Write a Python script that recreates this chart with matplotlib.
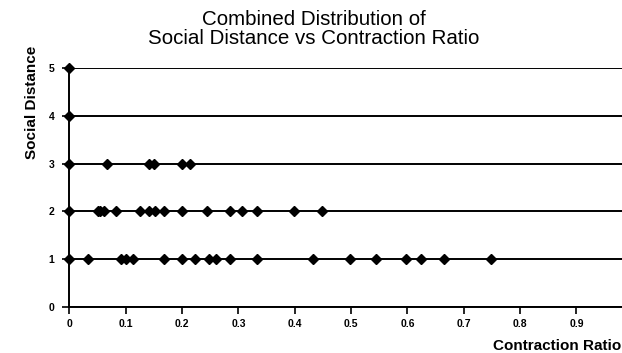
import matplotlib
matplotlib.use("Agg")
import matplotlib.pyplot as plt

plt.rcParams["font.family"] = ["Liberation Sans", "DejaVu Sans"]

# Contraction ratio values at each social distance level
level_1 = [0, 0.033, 0.091, 0.100, 0.112, 0.167, 0.199, 0.223, 0.248, 0.261,
           0.285, 0.333, 0.433, 0.498, 0.544, 0.598, 0.624, 0.665, 0.748]
level_2 = [0, 0.050, 0.054, 0.061, 0.083, 0.125, 0.141, 0.152, 0.167, 0.199,
           0.244, 0.285, 0.307, 0.333, 0.398, 0.448]
level_3 = [0, 0.067, 0.141, 0.150, 0.200, 0.214]
level_4 = [0]
level_5 = [0]
levels = [1, 2, 3, 4, 5]
x_ticks = [0, 0.1, 0.2, 0.3, 0.4, 0.5, 0.6, 0.7, 0.8, 0.9]
x_tick_labels = ["0", "0.1", "0.2", "0.3", "0.4", "0.5", "0.6", "0.7", "0.8", "0.9"]
y_ticks = [0, 1, 2, 3, 4, 5]

fig = plt.figure(figsize=(6.22, 3.53), dpi=100)
ax = fig.add_axes([0.1117, 0.1312, 0.8883, 0.6753])

for lvl, xs in zip(levels, [level_1, level_2, level_3, level_4, level_5]):
    ax.plot(xs, [lvl] * len(xs), linestyle="none", marker="D", markersize=4.8,
            color="black", clip_on=False, zorder=5)

ax.set_xlim(0, 0.981)
ax.set_ylim(0, 5)
ax.set_xticks(x_ticks)
ax.set_xticklabels(x_tick_labels)
ax.set_yticks(y_ticks)

ax.yaxis.grid(True, color="black", linewidth=1.4)
ax.set_axisbelow(True)
for side in ["top", "right"]:
    ax.spines[side].set_visible(False)
for side in ["left", "bottom"]:
    ax.spines[side].set_linewidth(1.4)

ax.tick_params(axis="x", length=5, width=1.2, pad=4, labelsize=7.5)
ax.tick_params(axis="y", length=5, width=1.2, pad=6, labelsize=7.5)
for lab in ax.get_xticklabels() + ax.get_yticklabels():
    lab.set_fontweight("bold")

ax.set_ylabel("Social Distance", fontsize=11, fontweight="bold", va="center")
ax.yaxis.set_label_coords(-0.068, 0.857)
ax.set_xlabel("Contraction Ratio", fontsize=11, fontweight="bold", ha="left", va="baseline")
ax.xaxis.set_label_coords(0.766, -0.18)

fig.text(0.505, 0.972, "Combined Distribution of\nSocial Distance vs Contraction Ratio",
         ha="center", va="top", fontsize=14.8, linespacing=1.0)

fig.savefig("out.png", dpi=100)
